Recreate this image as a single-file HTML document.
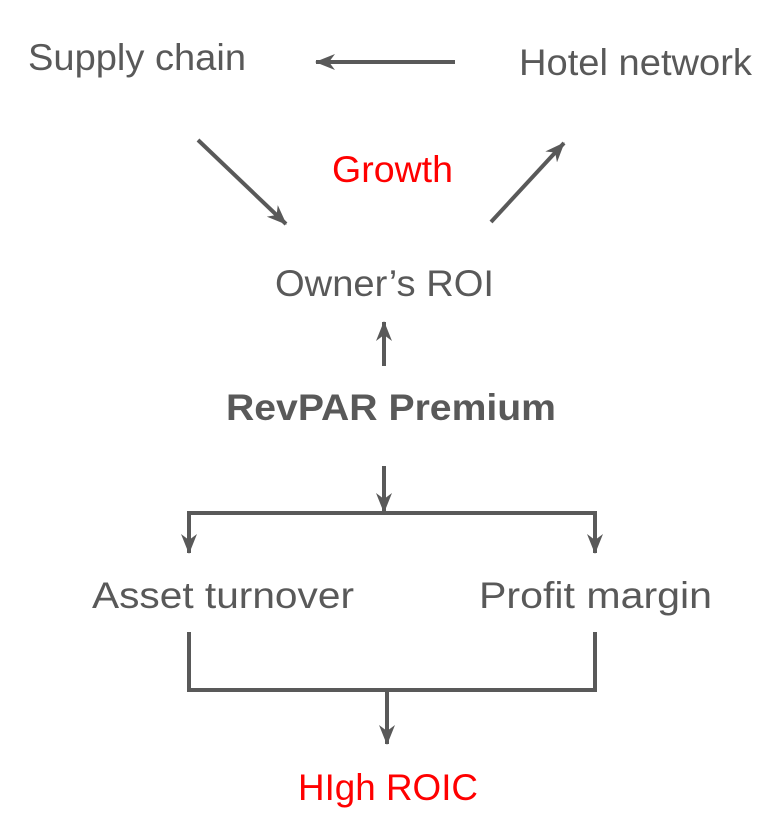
<!DOCTYPE html>
<html><head><meta charset="utf-8"><style>
html,body{margin:0;padding:0;background:#fff;}
svg{display:block;}
text{font-family:"Liberation Sans",Arial,sans-serif;fill:#595959;font-size:37px;}
</style></head><body>
<svg width="776" height="820" viewBox="0 0 776 820" xmlns="http://www.w3.org/2000/svg">
<defs>
<marker id="b" viewBox="0 0 20 16" refX="19" refY="8" markerWidth="20" markerHeight="16" orient="auto" markerUnits="userSpaceOnUse">
<path d="M0,0 L20,8 L0,16 L6,8 Z" fill="#595959"/>
</marker>
</defs>
<g stroke="#595959" stroke-width="4" fill="none">
<line x1="455" y1="62" x2="316" y2="62" marker-end="url(#b)"/>
<line x1="198" y1="140" x2="286" y2="224" marker-end="url(#b)"/>
<line x1="491" y1="222" x2="564" y2="143" marker-end="url(#b)"/>
<line x1="384" y1="366" x2="384" y2="322" marker-end="url(#b)"/>
<line x1="384" y1="466" x2="384" y2="512" marker-end="url(#b)"/>
<polyline points="189,553 189,513 595,513 595,553"/>
<line x1="189" y1="513" x2="189" y2="553" marker-end="url(#b)"/>
<line x1="595" y1="513" x2="595" y2="553" marker-end="url(#b)"/>
<polyline points="189,632 189,690 595,690 595,632"/>
<line x1="387" y1="690" x2="387" y2="744" marker-end="url(#b)"/>
</g>
<text x="28" y="70" textLength="218" lengthAdjust="spacingAndGlyphs">Supply chain</text>
<text x="519" y="75" textLength="233" lengthAdjust="spacingAndGlyphs">Hotel network</text>
<text x="332" y="182" textLength="121" lengthAdjust="spacingAndGlyphs" style="fill:#ff0000">Growth</text>
<text x="275" y="296" textLength="219" lengthAdjust="spacingAndGlyphs">Owner’s ROI</text>
<text x="226" y="420" textLength="330" lengthAdjust="spacingAndGlyphs" style="font-weight:bold">RevPAR Premium</text>
<text x="92" y="608" textLength="262" lengthAdjust="spacingAndGlyphs">Asset turnover</text>
<text x="479" y="608" textLength="233" lengthAdjust="spacingAndGlyphs">Profit margin</text>
<text x="298" y="800" textLength="180" lengthAdjust="spacingAndGlyphs" style="fill:#ff0000">HIgh ROIC</text>
</svg>
</body></html>
